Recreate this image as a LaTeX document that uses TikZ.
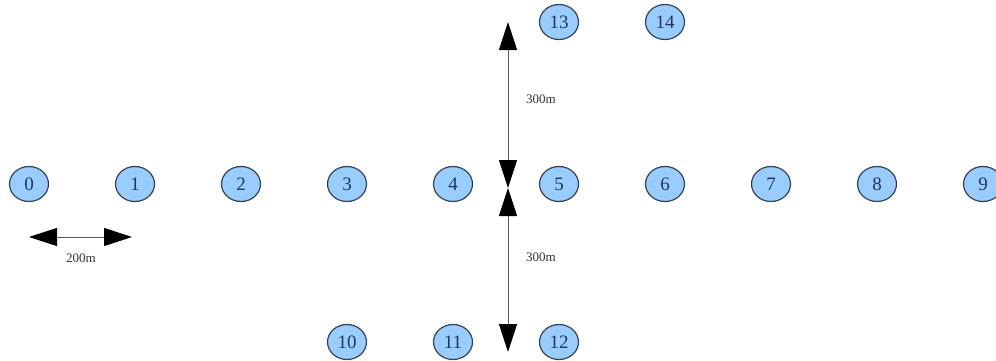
\documentclass[tikz,border=0pt]{standalone}
\usepackage{fontspec}
\setmainfont{Liberation Serif}
\usepackage{tikz}
\usetikzlibrary{shapes.geometric,arrows.meta}

\definecolor{nodefill}{RGB}{153,204,255}
\definecolor{nodeline}{RGB}{55,65,85}
\definecolor{nodetext}{RGB}{35,55,85}

\tikzset{
  station/.style={ellipse, draw=nodeline, line width=0.6pt, fill=nodefill,
    text=nodetext, minimum width=19.5pt, minimum height=17.5pt, inner sep=0pt,
    font=\fontsize{9.5}{11}\selectfont},
  dist/.style={{Triangle[length=14pt,width=9pt,color=black]}-{Triangle[length=14pt,width=9pt,color=black]}, line width=0.5pt, black!65},
  distlabel/.style={font=\fontsize{6.5}{8}\selectfont, text=black!80}
}

\begin{document}
\begin{tikzpicture}[x=0.5pt,y=-0.5pt]
      \useasboundingbox (0,0) rectangle (996,360);

      % main row
      \foreach \n in {0,...,9}{
        \node[station] (s\n) at (29+106*\n,184) {\n};
      }
      % lower row
      \node[station] (s10) at (347,342) {10};
      \node[station] (s11) at (453,342) {11};
      \node[station] (s12) at (559,342) {12};
      % upper row
      \node[station] (s13) at (559,22) {13};
      \node[station] (s14) at (665,22) {14};

      % distances
      \coordinate (vtop) at (508,22);
      \coordinate (vmid) at (508,188);
      \coordinate (vbot) at (508,352);
      \coordinate (hleft) at (29,237);
      \coordinate (hright) at (132,237);

      \draw[dist] (vtop) -- (vmid);
      \draw[dist] (vmid) -- (vbot);
      \draw[dist] (hleft) -- (hright);

      \node[distlabel] (l300a) at (541,99) {300m};
      \node[distlabel] (l300b) at (541,257) {300m};
      \node[distlabel] (l200) at (81,258) {200m};
    \end{tikzpicture}
\end{document}
